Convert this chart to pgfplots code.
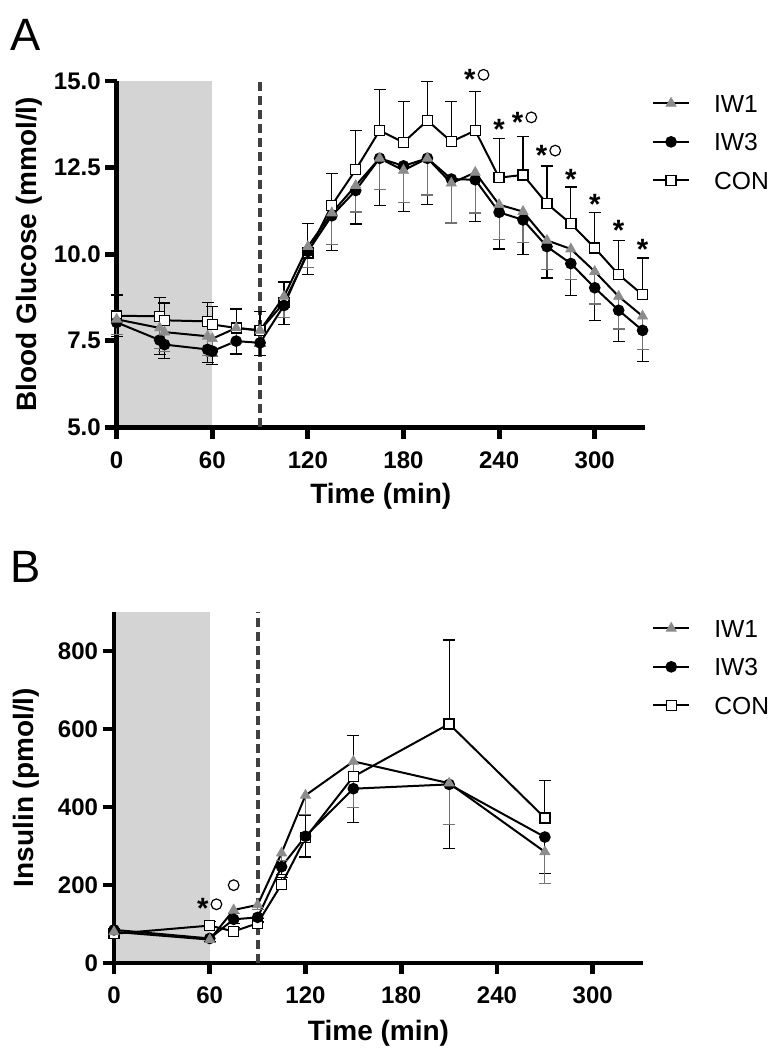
\documentclass[border=0pt]{standalone}
\usepackage{pgfplots}
\pgfplotsset{compat=1.18}
\usepackage{pgfplotstable}
\usepackage{fontspec}
\setmainfont{Liberation Sans}

\definecolor{markgray}{gray}{0.55}
\definecolor{shadegray}{gray}{0.83}
\definecolor{dashgray}{gray}{0.25}
\definecolor{bargray}{gray}{0.45}

% Panel A: blood glucose (mmol/l)
\pgfplotstableread{
t   con   conE  iwa   iwaE  iwb   iwbE
0   8.22  0.60  8.12  0.45  8.03  0.40
27  8.21  0.53  7.87  0.60  7.52  0.42
30  8.09  0.50  7.75  0.55  7.39  0.40
57  8.06  0.55  7.63  0.55  7.25  0.38
60  7.97  0.53  7.56  0.50  7.20  0.38
75  7.87  0.55  7.87  0.45  7.49  0.37
90  7.80  0.55  7.80  0.45  7.44  0.37
105 8.60  0.60  8.78  0.60  8.52  0.55
120 10.03 0.85  10.22 0.60  10.08 0.67
135 11.41 0.93  11.19 0.90  11.11 1.00
150 12.44 1.13  11.98 0.76  11.84 0.97
165 13.57 1.19  12.77 0.90  12.77 1.37
180 13.23 1.17  12.42 0.92  12.55 1.32
195 13.86 1.12  12.77 1.06  12.77 1.34
210 13.25 1.15  12.05 1.15  12.17 1.27
225 13.57 1.12  12.36 1.17  12.15 1.20
240 12.21 1.12  11.43 1.01  11.21 1.06
255 12.29 1.11  11.23 0.89  10.99 1.00
270 11.46 1.09  10.40 0.85  10.22 0.91
285 10.88 1.06  10.15 0.88  9.73  0.93
300 10.18 1.03  9.50  0.94  9.03  0.95
315 9.41  0.99  8.78  0.94  8.38  0.91
330 8.83  1.06  8.21  0.96  7.80  0.89
}\glucose

% Panel B: insulin (pmol/l)
\pgfplotstableread{
t   con  conE  iwa  iwaE  iwb  iwbE
0   75   8     80   8     85   8
60  96   10    60   8     63   8
75  81   10    136  10    112  10
90  102  12    149  12    117  12
105 202  18    282  20    247  20
120 321  58    430  50    325  53
150 478  105   517  119   447  87
210 613  215   461  105   458  164
270 372  96    285  81    323  93
}\insulin

\newcommand{\ocirc}{\tikz[baseline={(0,-11pt)}]\draw[line width=0.9pt] (0,0) circle (4pt);}
\newcommand{\sig}{*\hspace{1.5pt}\ocirc}

\tikzset{
  sigstyle/.style={font=\bfseries\fontsize{22}{26}\selectfont, anchor=base, yshift=-12pt, inner sep=0pt},
}

\pgfplotsset{
  panel/.style={
    scale only axis,
    set layers=standard,
    clip=false,
    axis lines=left,
    axis line style={-, line width=3.6pt, black},
    tick align=outside,
    major tick length=8.5pt,
    tick style={line width=3.6pt, black},
    xtick={0,60,120,180,240,300},
    xmin=0, xmax=331.5,
    ticklabel style={font=\bfseries\fontsize{18}{21}\selectfont},
    xticklabel style={yshift=-6pt},
    /pgf/number format/assume math mode=true,
    every axis x label/.style={at={(axis description cs:0.5,-0.2)}, anchor=center, font=\bfseries\fontsize{21}{25}\selectfont},
    every axis y label/.style={at={(axis description cs:-0.165,0.5)}, anchor=center, rotate=90, font=\bfseries\fontsize{21}{25}\selectfont},
    reverse legend,
    legend cell align=left,
    legend style={anchor=north west, draw=none, fill=none, inner sep=0pt,
      font=\fontsize{18.5}{22}\selectfont,
      nodes={inner sep=0pt, text height=13.5pt, text depth=0pt},
      row sep=15.4pt, column sep=18pt},
    legend image code/.code={\draw[mark repeat=2,mark phase=2,#1] plot coordinates {(0pt,0pt) (13.5pt,0pt) (27pt,0pt)};},
  },
  sCON/.style={black, line width=1.5pt, mark=square*, mark size=3.75pt,
    mark options={fill=white, draw=black, line width=1pt, solid},
    error bars/y dir=plus, error bars/y explicit,
    error bars/error bar style={line width=0.9pt, black},
    error bars/error mark options={rotate=90, mark size=4.5pt, line width=0.9pt, black}},
  sIWa/.style={black, line width=1.5pt, mark=triangle*, mark size=4.4pt,
    mark options={fill=markgray, draw=markgray, line width=0.5pt, solid},
    error bars/y dir=minus, error bars/y explicit,
    error bars/error bar style={line width=0.9pt, bargray},
    error bars/error mark options={rotate=90, mark size=4.5pt, line width=0.9pt, bargray}},
  sIWb/.style={black, line width=1.5pt, mark=*, mark size=3.6pt,
    mark options={fill=black, draw=black, solid},
    error bars/y dir=minus, error bars/y explicit,
    error bars/error bar style={line width=0.9pt, black},
    error bars/error mark options={rotate=90, mark size=4.5pt, line width=0.9pt, black}},
}

\begin{document}
\begin{tikzpicture}

\node[anchor=base west, inner sep=0pt, font=\fontsize{34}{40}\selectfont] at (8pt,-38pt) {A};
\node[anchor=base west, inner sep=0pt, font=\fontsize{34}{40}\selectfont] at (8pt,-437pt) {B};

% ---------------- Panel A ----------------
\begin{axis}[panel,
  at={(87.5pt,-320.5pt)}, anchor=south west,
  width=396.2pt, height=259.7pt,
  ymin=5, ymax=15,
  ytick={5,7.5,10,12.5,15},
  yticklabel style={/pgf/number format/.cd, fixed, fixed zerofill, precision=1},
  xlabel={Time (min)},
  ylabel={Blood Glucose (mmol/l)},
  legend style={at={(axis description cs:1.013,0.9625)}},
]
\begin{pgfonlayer}{axis background}
\fill[shadegray] (axis cs:0,5) rectangle (axis cs:60,15);
\end{pgfonlayer}
\draw[dashgray, line width=3pt, dash pattern=on 7pt off 3.5pt] (axis cs:90,5) -- (axis cs:90,15);

\addplot[sCON] table[x=t, y=con, y error=conE] {\glucose};
\addlegendentry{CON}
\addplot[sIWb] table[x=t, y=iwb, y error=iwbE] {\glucose};
\addlegendentry{IW3}
\addplot[sIWa] table[x=t, y=iwa, y error=iwaE] {\glucose};
\addlegendentry{IW1}

\node[sigstyle] at (axis cs:226,15.22) {\sig};
\node[sigstyle] at (axis cs:240,13.78) {*};
\node[sigstyle] at (axis cs:256,13.99) {\sig};
\node[sigstyle] at (axis cs:271,13.03) {\sig};
\node[sigstyle] at (axis cs:285,12.34) {*};
\node[sigstyle] at (axis cs:300,11.62) {*};
\node[sigstyle] at (axis cs:315,10.85) {*};
\node[sigstyle] at (axis cs:330,10.32) {*};
\end{axis}

% ---------------- Panel B ----------------
\begin{axis}[panel,
  at={(85.5pt,-722.25pt)}, anchor=south west,
  width=396.75pt, height=263.25pt,
  ymin=0, ymax=900,
  ytick={0,200,400,600,800},
  xlabel={Time (min)},
  ylabel={Insulin (pmol/l)},
  legend style={at={(axis description cs:1.017,0.98)}},
]
\begin{pgfonlayer}{axis background}
\fill[shadegray] (axis cs:0,0) rectangle (axis cs:60,900);
\end{pgfonlayer}
\draw[dashgray, line width=3pt, dash pattern=on 7pt off 3.5pt] (axis cs:90,0) -- (axis cs:90,900);

\addplot[sCON] table[x=t, y=con, y error=conE] {\insulin};
\addlegendentry{CON}
\addplot[sIWb] table[x=t, y=iwb, y error=iwbE] {\insulin};
\addlegendentry{IW3}
\addplot[sIWa] table[x=t, y=iwa, y error=iwaE] {\insulin};
\addlegendentry{IW1}

\node[sigstyle] at (axis cs:60,154) {\sig};
\node[sigstyle] at (axis cs:75,203) {\ocirc};
\end{axis}

\pgfresetboundingbox
\useasboundingbox (0,0) rectangle (579pt,-792pt);
\end{tikzpicture}
\end{document}
